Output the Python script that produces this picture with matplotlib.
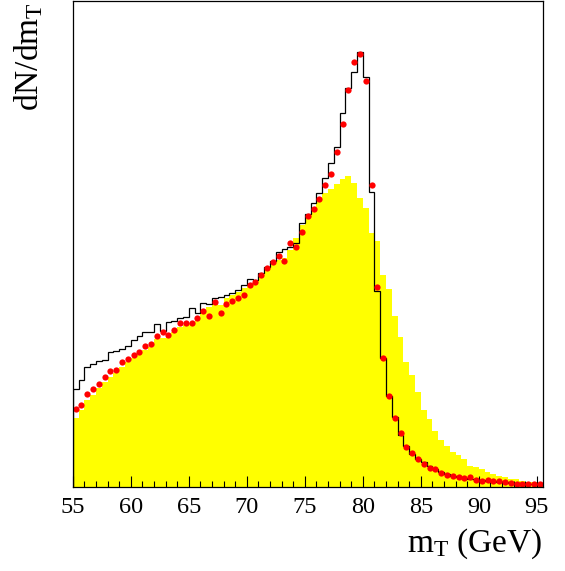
import numpy as np
import matplotlib
matplotlib.use("Agg")
import matplotlib.pyplot as plt
from matplotlib.ticker import MultipleLocator

# binning: 0.5 GeV bins from 55 to 95.5 GeV
mt_lo = 55.0
bin_w = 0.5

# black histogram
black = [98, 107, 120, 123, 126, 127, 135, 136, 138, 141,
         147, 151, 155, 155, 163, 156, 165, 166, 169, 170,
         179, 174, 184, 183, 189, 190, 192, 194, 197, 202,
         208, 207, 214, 220, 226, 235, 238, 240, 244, 264,
         273, 284, 294, 309, 324, 340, 374, 399, 415, 435,
         410, 295, 196, 129, 91, 70, 52, 41, 33, 28,
         25, 21, 18, 15, 13, 11, 10, 9, 8, 7.7,
         7, 6.3, 5.7, 5.3, 5, 4.3, 3.7, 3, 3, 3, 3]

# red points
red = [78, 82, 93, 98, 103, 110, 116, 117, 125, 128,
       132, 135, 141, 143, 151, 155, 152, 157, 164, 164,
       164, 169, 176, 171, 185, 174, 183, 186, 189, 192,
       202, 205, 212, 219, 225, 231, 226, 244, 240, 255,
       271, 278, 288, 302, 313, 335, 363, 397, 425, 433,
       406, 302, 200, 129, 91, 69, 54, 40, 34, 28,
       23, 19, 18, 14, 12, 11, 10, 9, 10, 7,
       6, 7, 6, 6, 5, 4, 3, 3, 3, 3, 3]

# yellow filled histogram
yellow = [69, 77, 87, 92, 99, 105, 110, 114, 120, 125,
          129, 133, 137, 140, 148, 149, 152, 155, 160, 162,
          164, 169, 177, 180, 184, 182, 189, 192, 195, 199,
          204, 207, 212, 217, 223, 227, 229, 237, 249, 262,
          270, 280, 289, 294, 298, 303, 308, 311, 304, 289,
          279, 254, 246, 212, 198, 171, 150, 125, 112, 95,
          77, 68, 56, 47, 41, 35, 32, 28, 21, 20,
          18, 15, 13, 11, 10, 8, 8, 6, 5, 5, 4]

edges = mt_lo + bin_w * np.arange(len(black) + 1)
centers = 0.5 * (edges[:-1] + edges[1:])

plt.rcParams['font.family'] = ['Liberation Serif', 'DejaVu Serif']
plt.rcParams['mathtext.fontset'] = 'custom'
plt.rcParams['mathtext.rm'] = 'Liberation Serif'
plt.rcParams['mathtext.it'] = 'Liberation Serif:italic'

fig = plt.figure(figsize=(5.65, 5.71), dpi=100)
ax = fig.add_axes([72.7 / 565, 84 / 571, 470 / 565, 486 / 571])

ax.stairs(yellow, edges, fill=True, color='#ffff00', linewidth=0)
ax.stairs(black, edges, color='black', linewidth=0.9)
ax.plot(centers, red, 'o', color='#ff0000', markersize=4.5, markeredgewidth=0)

ax.set_xlim(55, 95.5)
ax.set_ylim(0, 486)
ax.set_yticks([])
ax.xaxis.set_major_locator(MultipleLocator(5))
ax.xaxis.set_minor_locator(MultipleLocator(1))
ax.tick_params(axis='x', which='major', direction='in', length=8, width=0.8,
               labelsize=17.5, pad=7)
ax.tick_params(axis='x', which='minor', direction='in', length=4, width=0.8)
for s in ax.spines.values():
    s.set_linewidth(0.9)

fig.text(542.7 / 565, 19 / 571, r'm$_{\rm T}$ (GeV)', fontsize=24,
         ha='right', va='baseline')
fig.text(12 / 565, 0.997, r'dN/dm$_{\rm T}$', fontsize=24, rotation=90,
         ha='left', va='top')

fig.savefig('out.png', dpi=100)
